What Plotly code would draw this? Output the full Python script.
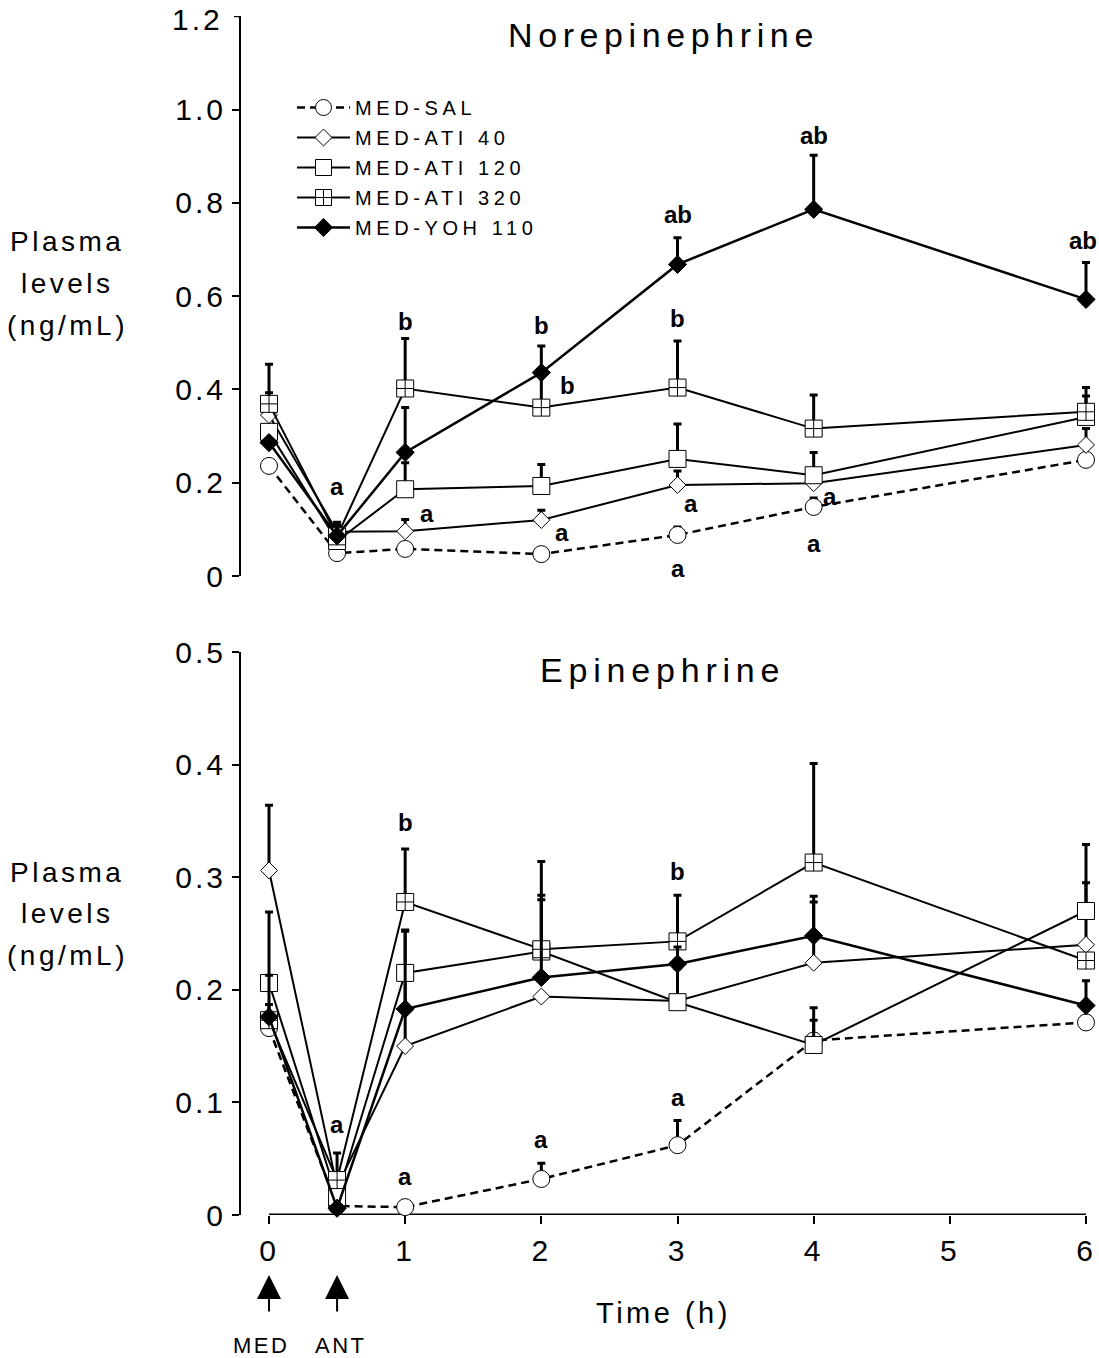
import plotly.graph_objects as go

# ---------------- data ----------------
time_h = [0, 0.5, 1, 2, 3, 4, 6]
series_names = ["MED-SAL", "MED-ATI 40", "MED-ATI 120", "MED-ATI 320", "MED-YOH 110"]

# Norepinephrine (ng/mL) means and upper SEM
ne_sal = [0.236, 0.049, 0.058, 0.047, 0.088, 0.148, 0.249]
ne_sal_err = [None, None, None, None, 0.017, 0.019, None]
ne_ati40 = [0.345, 0.095, 0.096, 0.120, 0.195, 0.199, 0.281]
ne_ati40_err = [0.048, 0.020, 0.025, 0.021, 0.030, None, 0.035]
ne_ati120 = [0.309, 0.075, 0.186, 0.193, 0.251, 0.216, 0.341]
ne_ati120_err = [None, 0.030, 0.057, 0.046, 0.075, 0.049, 0.045]
ne_ati320 = [0.369, 0.085, 0.402, 0.361, 0.404, 0.316, 0.352]
ne_ati320_err = [0.085, 0.025, 0.107, 0.075, 0.100, 0.072, 0.052]
ne_yoh = [0.286, 0.086, 0.265, 0.436, 0.668, 0.786, 0.593]
ne_yoh_err = [None, None, 0.096, 0.057, 0.057, 0.116, 0.079]

# Epinephrine (ng/mL) means and upper SEM
epi_sal = [0.166, 0.008, 0.007, 0.032, 0.062, 0.155, 0.171]
epi_sal_err = [None, None, None, 0.014, 0.022, 0.018, None]
epi_ati40 = [0.306, 0.025, 0.150, 0.194, 0.190, 0.224, 0.240]
epi_ati40_err = [0.058, None, 0.060, None, None, 0.054, 0.055]
epi_ati120 = [0.206, 0.016, 0.215, 0.234, 0.189, 0.151, 0.270]
epi_ati120_err = [0.063, 0.020, 0.037, 0.050, 0.030, 0.033, 0.059]
epi_ati320 = [0.173, 0.031, 0.278, 0.236, 0.243, 0.313, 0.226]
epi_ati320_err = [0.040, 0.024, 0.047, 0.078, 0.041, 0.088, None]
epi_yoh = [0.176, 0.006, 0.183, 0.211, 0.223, 0.248, 0.186]
epi_yoh_err = [0.011, None, 0.070, 0.069, 0.015, 0.035, 0.022]

# significance letters (x, y, letter)
ne_letters = [(0.5, 0.191, "a"), (1, 0.545, "b"), (1.16, 0.134, "a"), (1, -0.012, "a"),
              (2, 0.538, "b"), (2.19, 0.409, "b"), (2.15, 0.094, "a"), (2, -0.023, "a"),
              (3, 0.775, "ab"), (3, 0.552, "b"), (3.1, 0.156, "a"), (3, 0.017, "a"),
              (4, 0.945, "ab"), (4.12, 0.170, "a"), (4, 0.070, "a"), (5.98, 0.720, "ab")]
epi_letters = [(0.5, 0.080, "a"), (1, 0.349, "b"), (1, 0.034, "a"), (2, 0.067, "a"),
               (3, 0.305, "b"), (3, 0.104, "a")]

ne_ticks = [0, 0.2, 0.4, 0.6, 0.8, 1.0, 1.2]
ne_ticklabels = ["0", "0.2", "0.4", "0.6", "0.8", "1.0", "1.2"]
epi_ticks = [0, 0.1, 0.2, 0.3, 0.4, 0.5]
epi_ticklabels = ["0", "0.1", "0.2", "0.3", "0.4", "0.5"]
x_ticks = [0, 1, 2, 3, 4, 5, 6]
x_ticklabels = ["0", "1", "2", "3", "4", "5", "6"]

# ---------------- styling ----------------
W, H = 1099, 1358
ML, MR, MT, MB = 241, 1, 16, 143
PW, PH = W - ML - MR, H - MT - MB
FONT = "Liberation Sans, Arial, sans-serif"


def px_x(p):
    return (p - ML) / PW


def px_y(p):
    return (H - MB - p) / PH


def sp(t, s):
    return f'<span style="letter-spacing:{s}px">{t}</span>'


styles = [
    dict(symbol="circle", size=17, color="white", lw=2.5, dash="8px,5px"),
    dict(symbol="diamond", size=13, color="white", lw=2, dash="solid"),
    dict(symbol="square", size=17, color="white", lw=2, dash="solid"),
    dict(symbol="square-cross", size=17, color="white", lw=2, dash="solid"),
    dict(symbol="diamond", size=14, color="black", lw=2.5, dash="solid"),
]

ne_data = [(ne_sal, ne_sal_err), (ne_ati40, ne_ati40_err), (ne_ati120, ne_ati120_err),
           (ne_ati320, ne_ati320_err), (ne_yoh, ne_yoh_err)]
epi_data = [(epi_sal, epi_sal_err), (epi_ati40, epi_ati40_err), (epi_ati120, epi_ati120_err),
            (epi_ati320, epi_ati320_err), (epi_yoh, epi_yoh_err)]

fig = go.Figure()


def add_panel(data, xa, ya, showlegend):
    for i, ((vals, errs), st) in enumerate(zip(data, styles)):
        fig.add_trace(go.Scatter(
            x=time_h, y=vals, xaxis=xa, yaxis=ya,
            mode="lines+markers",
            name=sp(series_names[i], 4.6),
            legendgroup=f"g{i}",
            showlegend=showlegend,
            cliponaxis=False,
            line=dict(color="black", width=st["lw"], dash=st["dash"]),
            marker=dict(symbol=st["symbol"], size=st["size"], color=st["color"],
                        line=dict(color="black", width=1)),
            error_y=dict(type="data", symmetric=False,
                         array=[e if e is not None else float("nan") for e in errs],
                         arrayminus=[0] * len(errs),
                         color="black", thickness=3, width=4),
        ))


add_panel(ne_data, "x", "y", True)
add_panel(epi_data, "x2", "y2", False)

annotations = []


def txt(x, y, t, size, xref="paper", yref="paper", xanchor="center", **font_kw):
    annotations.append(dict(x=x, y=y, xref=xref, yref=yref, text=t, showarrow=False,
                            xanchor=xanchor, yanchor="middle",
                            font=dict(family=FONT, size=size, color="black", **font_kw)))


for (x, y, t) in ne_letters:
    txt(x, y, t, 24, "x", "y", weight="bold")
for (x, y, t) in epi_letters:
    txt(x, y, t, 24, "x2", "y2", weight="bold")

# Panel titles
txt(px_x(663), px_y(35), sp("Norepinephrine", 5.6), 34)
txt(px_x(662), px_y(670), sp("Epinephrine", 5.8), 34)

# Y titles (horizontal, 3 lines)
for yc in (283, 913):
    for dy, t in zip((-41, 0, 42), ("Plasma", "levels", "(ng/mL)")):
        txt(px_x(67), px_y(yc + dy), sp(t, 3.5), 28)

# X title
txt(px_x(663), px_y(1313), sp("Time (h)", 3.5), 29)

# MED / ANT arrows and labels
for xv, lab, lx in ((0, "MED", 261), (0.5, "ANT", 341)):
    annotations.append(dict(x=xv, y=px_y(1275), xref="x2", yref="paper", text="",
                            showarrow=True, ax=0, ay=38, arrowhead=2, arrowsize=2.4,
                            arrowwidth=2, arrowcolor="black"))
    txt(px_x(lx), px_y(1345), sp(lab, 2.5), 22)

# top-most tick label of the upper panel (drawn by hand: it sits at the figure edge)
txt(px_x(225), px_y(19), sp(ne_ticklabels[-1], 3), 30, xanchor="right")

axis_font = dict(family=FONT, size=30, color="black")
x0_px, x6_px = 269, 1086
ppu = (x6_px - x0_px) / 6.0
xr = [(ML - x0_px) / ppu, (ML + PW - x0_px) / ppu]
top_dom = [px_y(576), 1.0]
bot_dom = [0.0, px_y(652)]

yax_common = dict(showgrid=False, zeroline=False, automargin=False,
                  showline=True, linewidth=2, linecolor="black",
                  ticks="outside", ticklen=7, tickwidth=2, tickcolor="black",
                  tickfont=axis_font, ticklabelstandoff=0)

fig.update_layout(
    template="none",
    width=W, height=H,
    autosize=False,
    margin=dict(l=ML, r=MR, t=MT, b=MB, autoexpand=False),
    paper_bgcolor="white", plot_bgcolor="white",
    font=dict(family=FONT, color="black"),
    xaxis=dict(domain=[0, 1], range=xr, anchor="y", visible=False, automargin=False),
    yaxis=dict(domain=top_dom, range=[0, 1.2005], anchor="x",
               tickvals=ne_ticks[:-1], ticktext=[sp(t, 3) for t in ne_ticklabels[:-1]],
               **yax_common),
    xaxis2=dict(domain=[0, 1], range=xr, anchor="y2", showgrid=False, zeroline=False,
                automargin=False,
                showline=False, ticks="outside", ticklen=8, tickwidth=2, tickcolor="black",
                tickvals=x_ticks, ticktext=[sp(t, 3) for t in x_ticklabels],
                tickfont=axis_font, ticklabelstandoff=1),
    yaxis2=dict(domain=bot_dom, range=[0, 0.5], anchor="x2",
                tickvals=epi_ticks, ticktext=[sp(t, 3) for t in epi_ticklabels], **yax_common),
    shapes=[
        dict(type="line", xref="x2", yref="y2", x0=x_ticks[0], x1=x_ticks[-1], y0=0, y1=0,
             line=dict(color="black", width=3), layer="below"),
        dict(type="line", xref="paper", yref="y", x0=px_x(234), x1=px_x(241),
             y0=ne_ticks[-1], y1=ne_ticks[-1], line=dict(color="black", width=2)),
    ],
    annotations=annotations,
    showlegend=True,
    legend=dict(x=px_x(292), y=px_y(88), xanchor="left", yanchor="top",
                bgcolor="rgba(0,0,0,0)", borderwidth=0,
                font=dict(family=FONT, size=20, color="black"),
                traceorder="grouped", tracegroupgap=1, itemwidth=53),
)

fig.write_html("out.html",
               config={"displayModeBar": False},
               post_script="document.body.style.margin='0';document.body.style.overflow='hidden';")
